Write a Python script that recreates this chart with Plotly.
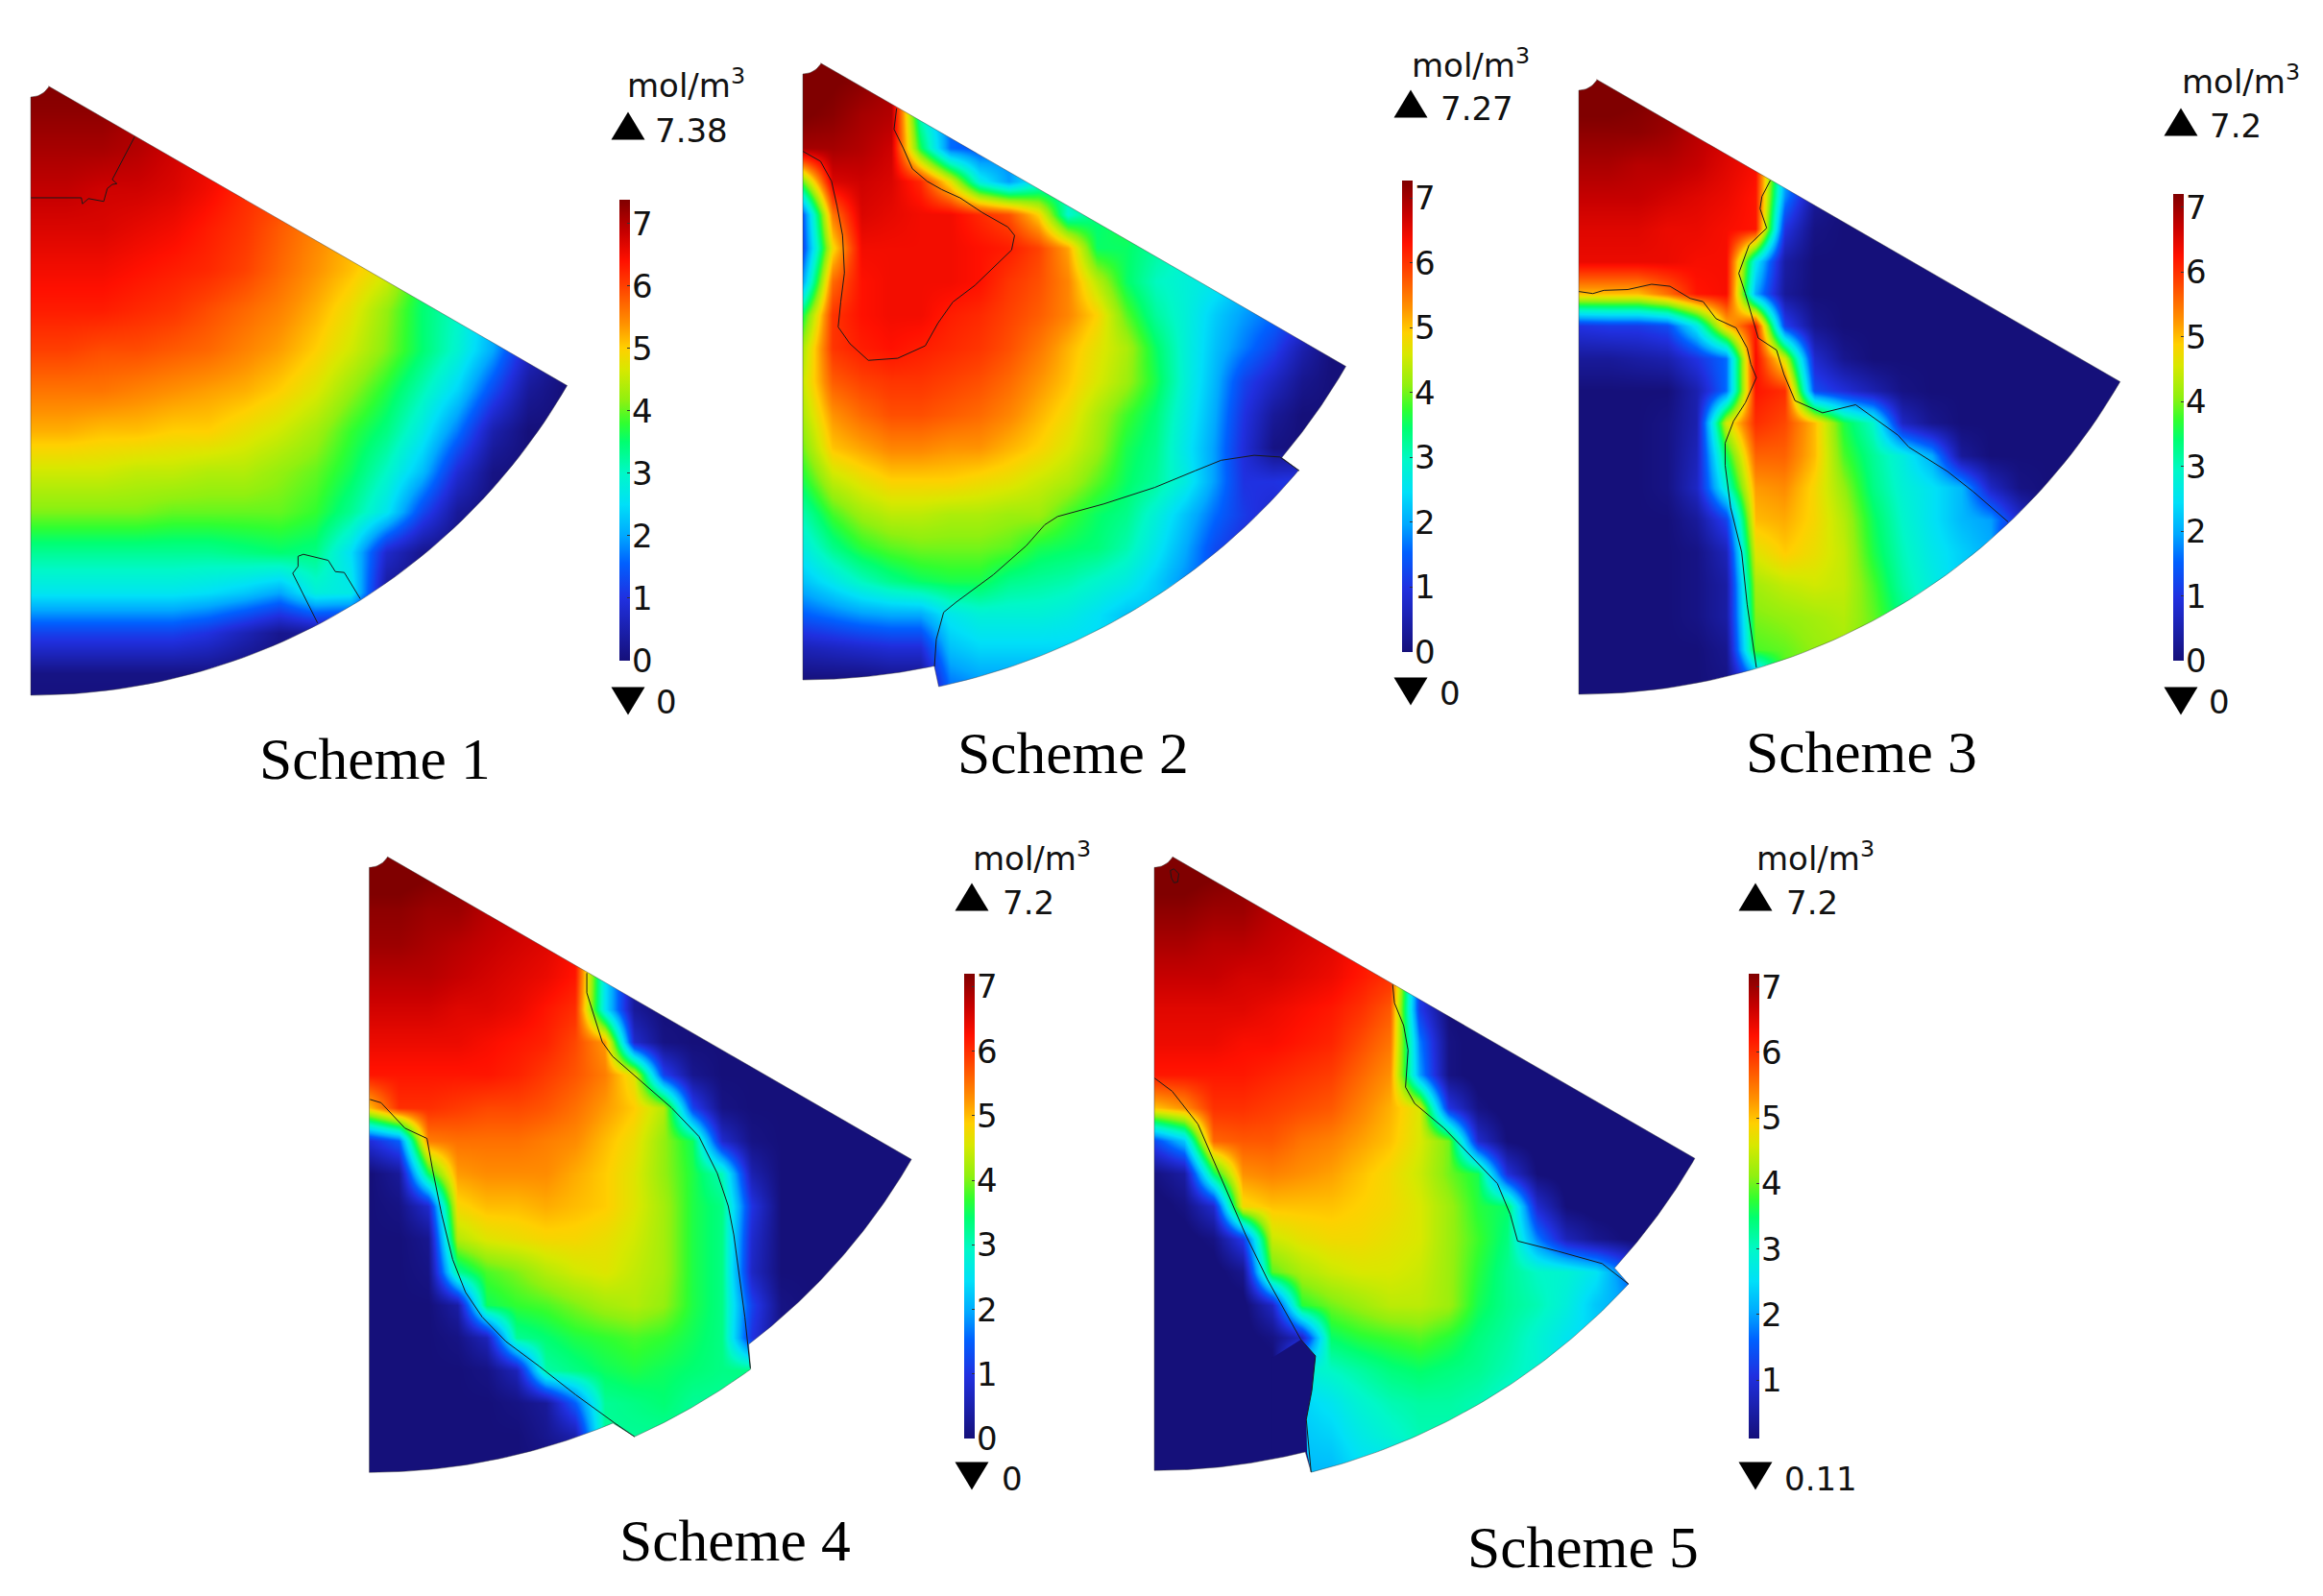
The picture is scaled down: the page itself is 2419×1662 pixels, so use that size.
import math
import numpy as np
import plotly.graph_objects as go

W, H = 2419, 1662

# ---------- values: concentration in tenths of mol/m3 ----------
# rows run downward, columns rightward; short rows continue with their last value
scheme1_z = [
[74,74,73,71,69,66,63,60,56,52,47,36,30,22,9,1],
[73,73,73,71,69,66,63,60,56,52,47,36,30,22,9,1],
[71,71,71,70,68,66,63,60,56,52,47,36,30,22,9,1],
[69,69,68,68,67,65,62,60,56,52,47,36,30,22,9,1],
[67,67,67,66,65,63,61,58,55,52,47,36,30,22,9,1],
[65,65,65,64,63,62,60,57,54,51,47,36,30,22,9,1],
[63,63,63,62,61,59,57,55,52,48,42,35,30,22,9,1],
[60,60,59,59,58,57,55,53,50,46,41,35,29,20,7,1],
[56,56,56,55,54,53,52,50,47,42,37,31,24,13,3,0],
[52,52,51,51,50,50,48,46,43,38,34,27,17,5,0],
[46,46,46,45,45,44,44,42,40,36,30,22,9,1,0],
[41,41,41,41,40,40,40,40,38,33,26,13,3,0],
[33,33,33,33,33,33,34,35,34,25,8,2,0],
[26,26,26,26,26,25,23,20,28,27,3,0],
[12,12,12,12,12,10,6,2,3,2,0],
[1,1,1,1,1,1,0],
[0],
]
scheme2_z = [
[74,73,72,70,26,16,14,18,28,32,36,37,32,29,26,22,17,11,3],
[74,73,72,70,26,16,14,18,28,32,36,37,32,29,26,22,17,11,3],
[73,72,70,69,30,16,14,18,28,32,36,37,32,29,26,22,17,11,3],
[70,70,69,67,36,16,14,18,28,32,36,37,32,29,26,22,17,11,3],
[40,66,67,66,61,47,27,19,27,32,36,37,32,29,26,22,17,11,3],
[15,55,66,65,64,64,61,58,49,29,34,37,32,29,26,22,17,11,3],
[13,48,64,64,64,64,63,62,59,52,35,35,32,29,26,22,17,11,3],
[20,56,63,64,64,64,63,60,58,54,44,35,30,28,26,22,17,11,3],
[36,60,63,64,64,62,61,59,57,54,49,39,32,28,23,19,16,11,3],
[43,60,62,63,62,61,60,58,55,51,47,43,35,28,22,17,12,5,0],
[45,57,59,60,60,59,58,56,53,50,46,42,36,28,21,12,7,2,0],
[43,53,56,58,58,57,56,54,51,48,43,38,34,27,20,10,3,0],
[40,50,52,54,54,53,53,51,49,46,42,36,33,26,19,9,1,0],
[36,44,47,49,49,49,48,47,45,43,39,35,32,27,19,10,10,11,0],
[31,38,42,44,44,43,43,42,42,38,35,33,28,22,16,11,8,10],
[27,33,37,39,40,40,40,39,36,35,34,31,26,20,13,9,9],
[22,26,30,33,35,36,36,33,32,31,29,27,23,18,13,9],
[15,17,19,20,20,26,28,28,28,27,25,22],
[6,7,8,9,9,22,24,24,24],
[0,0,0,1,1,17,19,19],
]
scheme3_z = [
[74,74,73,71,69,66,63,30,3,0],
[73,73,72,71,69,66,63,30,3,0],
[71,71,71,70,68,66,63,30,3,0],
[69,69,68,68,67,65,63,22,3,0],
[67,67,67,66,65,64,62,18,3,0],
[65,65,65,64,64,63,62,10,1,0],
[64,64,64,64,63,63,26,4,0],
[50,50,50,55,62,63,20,3,0],
[10,11,11,13,26,50,62,12,2,0],
[3,3,4,5,10,16,63,45,8,2,0],
[0,0,0,0,5,16,62,60,13,9,5,1,0],
[0,0,0,1,5,45,60,58,50,36,29,7,2,0],
[0,0,0,1,6,35,56,56,50,38,32,27,20,3,0],
[0,0,0,1,7,28,52,53,48,41,33,28,25,21,7,1,0],
[0,0,0,0,3,12,50,51,48,43,35,29,25,21,19,8,0],
[0,0,0,0,1,6,46,49,47,44,36,30,26,23,20,0],
[0,0,0,0,1,4,42,44,45,44,38,31,27,23,20,0],
[0,0,0,0,1,4,40,41,42,43,39,33,27,23,0],
[0,0,0,0,0,2,38,39,41,42,39,33,0],
[0,0,0,0,0,1,15,38,40,0],
]
scheme4_z = [
[74,74,73,71,69,67,65,63,24,2,0],
[73,73,72,71,69,67,65,63,24,2,0],
[71,71,70,70,68,67,65,63,24,2,0],
[70,70,69,68,67,66,65,63,24,2,0],
[68,68,68,67,66,65,64,62,25,3,0],
[66,66,66,65,65,64,62,60,25,3,0],
[64,64,64,64,63,62,61,58,52,8,1,0],
[62,62,62,62,62,61,59,57,54,46,12,2,0],
[50,60,60,59,58,58,57,55,52,49,43,12,1,0],
[9,15,54,55,55,55,54,53,50,47,41,35,8,1,0],
[0,3,35,52,53,53,53,51,49,46,41,36,30,5,0],
[0,1,8,48,50,50,51,50,49,46,42,36,33,10,0],
[0,0,2,43,46,47,48,48,47,45,42,36,33,8,0],
[0,0,1,32,38,40,43,45,46,44,42,36,33,7,0],
[0,0,0,4,35,37,38,40,42,43,41,36,33,12,1,0],
[0,0,0,1,6,32,34,36,37,38,37,35,33,10,1,0],
[0,0,0,0,1,6,31,33,35,36,35,34,33,33,0],
[0,0,0,0,0,1,3,15,32,33,34,32,32,32,0],
[0,0,0,0,0,0,2,5,32,32,32,32,0],
[0,0,0,0,0,0,0,0,32,32,32,32,0],
]
scheme5_z = [
[74,74,73,71,69,67,65,63,60,12,1,0],
[73,73,72,71,69,67,65,63,60,12,1,0],
[71,71,70,70,68,67,65,63,60,12,1,0],
[69,69,68,68,67,66,65,63,60,12,1,0],
[67,67,67,66,66,65,64,62,60,12,1,0],
[65,65,65,65,64,63,62,60,57,12,1,0],
[64,64,64,63,63,62,61,58,55,18,2,0],
[62,62,62,62,61,60,59,56,53,20,2,0],
[50,53,60,60,59,58,57,54,51,46,11,2,0],
[14,23,56,57,57,55,54,52,50,46,40,9,1,0],
[2,5,35,53,54,53,52,50,48,45,40,36,10,1,0],
[0,2,9,48,50,50,50,49,48,46,42,37,35,9,1,0],
[0,0,2,12,45,47,48,48,47,46,42,38,34,18,7,3,1,0],
[0,0,0,3,39,43,45,46,46,45,42,37,33,30,29,26,17,0],
[0,0,0,0,8,37,40,42,44,44,42,36,33,31,28,23,20,0],
[0,0,0,0,2,8,35,37,38,39,37,34,32,29,26,24,20],
[0,0,0,0,0,28,30,32,34,35,34,33,31,29,26],
[0,0,0,0,0,24,26,29,31,32,32,31,29,29],
[0,0,0,0,0,23,24,27,29,31,31],
[0,0,0,0,0,22,22,25,25],
]

# phase-boundary curves, in reference pixels relative to each panel's crop
scheme1_curves = [
 [(33,323),(175,323),(178,338),(195,325),(238,332),(248,300),(262,290),(275,288),(262,278),(325,172)],
 [(840,1375),(770,1252),(785,1235),(785,1210),(800,1205),(870,1220),(890,1248),(915,1250),(960,1315)],
]
scheme2_curves = [
 [(42,248),(90,272),(120,320),(135,380),(150,450),(155,540),(145,610),(138,670),(170,710),(220,750),(300,745),(375,715),(410,660),(450,610),(510,570),(610,485),(618,450),(600,430),(530,395),(470,360),(420,340),(380,320),(340,290),(315,240),(290,195),(297,145)],
 [(400,1485),(405,1420),(425,1355),(460,1330),(560,1265),(650,1195),(700,1145),(735,1125),(860,1095),(1000,1055),(1110,1015),(1180,990),(1270,978),(1340,982),(1393,1015)],
]
scheme3_curves = [
 [(37,555),(75,560),(105,552),(170,550),(235,537),(285,542),(340,572),(375,580),(410,622),(465,645),(495,695),(505,735),(520,768),(490,830),(458,875),(435,930),(435,985),(450,1090),(480,1200),(495,1330),(520,1485)],
 [(558,280),(535,320),(530,350),(548,398),(500,440),(472,510),(490,560),(510,620),(525,670),(575,700),(595,760),(625,825),(700,855),(790,835),(850,875),(905,910),(935,940),(1040,1000),(1110,1050),(1205,1125)],
]
scheme4_curves = [
 [(40,620),(70,628),(135,690),(195,715),(210,790),(235,900),(265,1010),(300,1090),(345,1150),(410,1210),(500,1270),(600,1340),(705,1408),(760,1442)],
 [(1075,1275),(1068,1215),(1060,1150),(1030,950),(1015,880),(985,800),(935,710),(860,640),(700,515),(672,480),(650,420),(630,360),(630,312)],
]
scheme5_curves = [
 [(32,568),(80,600),(150,680),(200,785),(280,950),(340,1060),(430,1205),(470,1245),(460,1330),(445,1400),(458,1528)],
 [(680,340),(685,385),(710,440),(722,500),(715,590),(740,630),(820,690),(900,765),(965,825),(1000,900),(1020,965),(1130,990),(1250,1020),(1322,1070)],
 [(75,62),(85,58),(98,70),(95,90),(85,92),(78,80),(75,62)],
]
# the zero-concentration zone left of scheme 5's protruding lobe
scheme5_zero_zone = [(430,1205),(470,1245),(460,1330),(445,1400),(447,1480),(458,1528),(352,1560),(352,1250)]

colorbar_ticks = [0, 1, 2, 3, 4, 5, 6, 7]
scheme_names = ["Scheme 1", "Scheme 2", "Scheme 3", "Scheme 4", "Scheme 5"]
max_labels = ["7.38", "7.27", "7.2", "7.2", "7.2"]
min_labels = ["0", "0", "0", "0", "0.11"]
z_max = [7.38, 7.27, 7.2, 7.2, 7.2]
z_min = [0, 0, 0, 0, 0.11]

# colour ramp
ramp = [(0.0,"#15107a"),(1.0,"#2030e0"),(1.56,"#0060ff"),(2.0,"#00a8ff"),(2.5,"#00e0f8"),
        (3.0,"#00f8c8"),(3.5,"#00ff70"),(3.8,"#30ff30"),(4.17,"#90f010"),(4.66,"#d8e800"),
        (5.0,"#ffd000"),(5.4,"#ff9000"),(6.0,"#ff4000"),(6.4,"#ff1000"),(6.85,"#c80000"),(7.38,"#800000")]
colorscale = [[v / 7.38, c] for v, c in ramp]
NAVY = "#15107a"

# ---------- layout of panels ----------
panels = [
 dict(z=scheme1_z, curves=scheme1_curves, crop=(20,70,580,660), step=100, gx=33, ncol=16, c=(32,79), R=645, lobe=None, zero=None,
      bar=(645,208,688), title=(714,87), up=(654,131), upt=(720,136), dn=(654,730), dnt=(694,731), cap=(390,790)),
 dict(z=scheme2_z, curves=scheme2_curves, crop=(820,50,600,680), step=80, gx=42, ncol=19, c=(836,55), R=653,
      lobe=[(12.1,653),(12.1,675),(49.9,675),(49.8,653)], zero=None,
      bar=(1460,188,679), title=(1531,66), up=(1469,108), upt=(1538,113), dn=(1469,720), dnt=(1510,722), cap=(1117,784)),
 dict(z=scheme3_z, curves=scheme3_curves, crop=(1630,70,600,660), step=80, gx=37, ncol=19, c=(1644,72), R=651, lobe=None, zero=None,
      bar=(2263,202,688), title=(2333,83), up=(2271,127), upt=(2328,131), dn=(2271,730), dnt=(2311,731), cap=(1938,783)),
 dict(z=scheme4_z, curves=scheme4_curves, crop=(370,880,600,670), step=80, gx=38, ncol=19, c=(384.5,881.3), R=652,
      lobe=[(22.9,652),(24.2,674),(36.1,673),(37.3,652)], zero=None,
      bar=(1004,1014,1498), title=(1074,892), up=(1012,934), upt=(1071,940), dn=(1012,1537), dnt=(1054,1540), cap=(765,1604)),
 dict(z=scheme5_z, curves=scheme5_curves, crop=(1190,880,600,670), step=80, gx=32, ncol=19, c=(1202,881.3), R=650,
      lobe=[(14.0,650),(14.07,672),(47.3,672),(47.5,650)], zero=scheme5_zero_zone,
      bar=(1821,1014,1498), title=(1890,892), up=(1828,934), upt=(1887,940), dn=(1828,1537), dnt=(1896,1540), cap=(1648,1611)),
]

def polar(c, r, deg):
    a = math.radians(deg)
    return (c[0] + r * math.sin(a), c[1] + r * math.cos(a))

def arc(c, r, d0, d1, n=60):
    return [polar(c, r, d0 + (d1 - d0) * i / n) for i in range(n + 1)]

fig = go.Figure()
annotations = []
FONT = "DejaVu Sans"
INK = "#111111"
TRI_W, TRI_H = 35, 29

for i, p in enumerate(panels):
    ox, oy, cw, ch = p["crop"]
    sx, sy = 1568 / cw, 1568 / ch
    ncol = p["ncol"]
    z = np.array([r + [r[-1]] * (ncol - len(r)) for r in p["z"]], dtype=float) / 10
    dx, dy = p["step"] / sx, p["step"] / sy
    x0 = ox + p["gx"] / sx
    y0 = oy
    bl, br, bt, bb = x0 - dx, x0 + dx * ncol, y0 - dy, y0 + dy * len(z)
    bx, top, bottom = p["bar"]
    fig.add_trace(go.Heatmap(
        z=z, x0=x0, dx=dx, y0=y0, dy=dy, zsmooth="best", colorscale=colorscale,
        zmin=z_min[i], zmax=z_max[i], hoverinfo="skip",
        colorbar=dict(x=bx / W, xanchor="left", xpad=0,
                      y=1 - bottom / H, yanchor="bottom", ypad=0,
                      len=bottom - top, lenmode="pixels", thickness=11, thicknessmode="pixels",
                      tickvals=[t for t in colorbar_ticks if t >= z_min[i]], showticklabels=False,
                      ticks="inside", ticklen=3, tickcolor="#333333", outlinewidth=0, borderwidth=0),
    ))
    if p["zero"]:
        fig.add_trace(go.Scatter(x=[ox + q[0] / sx for q in p["zero"]], y=[oy + q[1] / sy for q in p["zero"]],
                                 mode="lines", fill="toself", fillcolor=NAVY, line=dict(width=0), hoverinfo="skip"))
    # wedge outline
    c, R = p["c"], p["R"]
    outline = arc(c, 22, 60, 0, 12)
    if p["lobe"] is None:
        outline += arc(c, R, 0, 60)
    else:
        (a0, _), (a1, R2), (a2, _), (a3, _) = p["lobe"]
        outline += arc(c, R, 0, a0) + arc(c, R2, a1, a2) + arc(c, R, a3, 60)
    ring = outline + [outline[0]]
    mx = [bl, br, br, bl, bl] + [q[0] for q in ring] + [bl]
    my = [bt, bt, bb, bb, bt] + [q[1] for q in ring] + [bt]
    fig.add_trace(go.Scatter(x=mx, y=my, mode="lines", fill="toself", fillcolor="white",
                             line=dict(width=0), hoverinfo="skip"))
    fig.add_trace(go.Scatter(x=[q[0] for q in ring], y=[q[1] for q in ring], mode="lines",
                             line=dict(color="rgba(60,60,60,0.45)", width=1), hoverinfo="skip"))
    # phase boundaries
    for curve in p["curves"]:
        fig.add_trace(go.Scatter(x=[ox + q[0] / sx for q in curve], y=[oy + q[1] / sy for q in curve],
                                 mode="lines", line=dict(color="#1a1a1a", width=1), hoverinfo="skip"))
    # max / min markers
    ux, uy = p["up"]
    fig.add_trace(go.Scatter(x=[ux - TRI_W / 2, ux + TRI_W / 2, ux, ux - TRI_W / 2],
                             y=[uy + TRI_H / 2, uy + TRI_H / 2, uy - TRI_H / 2, uy + TRI_H / 2],
                             mode="lines", fill="toself", fillcolor="black", line=dict(width=0), hoverinfo="skip"))
    vx, vy = p["dn"]
    fig.add_trace(go.Scatter(x=[vx - TRI_W / 2, vx + TRI_W / 2, vx, vx - TRI_W / 2],
                             y=[vy - TRI_H / 2, vy - TRI_H / 2, vy + TRI_H / 2, vy - TRI_H / 2],
                             mode="lines", fill="toself", fillcolor="black", line=dict(width=0), hoverinfo="skip"))
    for pos, txt, font in [
        (p["title"], "mol/m<sup>3</sup>", dict(family=FONT, size=34, color=INK)),
        (p["upt"], max_labels[i], dict(family=FONT, size=34, color=INK)),
        (p["dnt"], min_labels[i], dict(family=FONT, size=34, color=INK)),
        (p["cap"], scheme_names[i], dict(family="Liberation Serif", size=61.5, color="black")),
    ]:
        annotations.append(dict(x=pos[0], y=pos[1], xref="x", yref="y", text=txt, showarrow=False,
                                font=font, xanchor="center", yanchor="middle"))
    # colour bar tick labels
    for t in colorbar_ticks:
        if t >= z_min[i]:
            ty = bottom - (t - z_min[i]) / (z_max[i] - z_min[i]) * (bottom - top)
            annotations.append(dict(x=bx + 13, y=ty, xref="x", yref="y", text=str(t), showarrow=False,
                                    font=dict(family=FONT, size=34, color=INK), xanchor="left", yanchor="middle",
                                    borderpad=0, borderwidth=0))

fig.update_layout(
    width=W, height=H, margin=dict(l=0, r=0, t=0, b=0, autoexpand=False),
    paper_bgcolor="white", plot_bgcolor="white", showlegend=False, annotations=annotations,
    xaxis=dict(range=[0, W], visible=False, fixedrange=True),
    yaxis=dict(range=[H, 0], visible=False, fixedrange=True),
)
fig.write_html("out.html", post_script="document.body.style.margin='0';", config=dict(displayModeBar=False))
